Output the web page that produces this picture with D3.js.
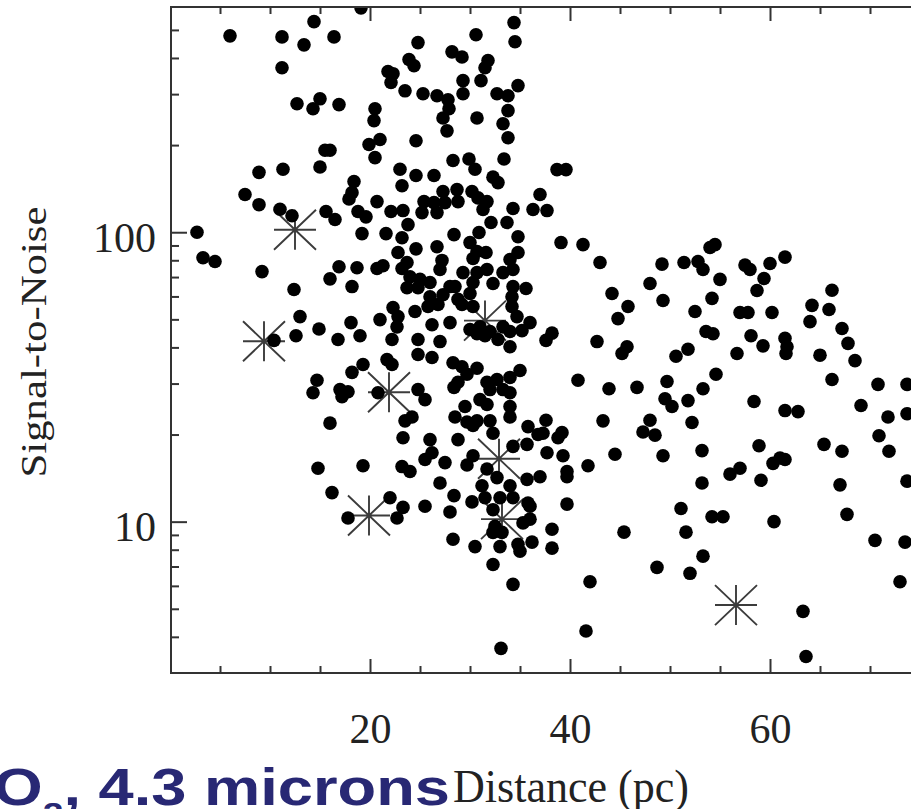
<!DOCTYPE html>
<html><head><meta charset="utf-8">
<script src="https://cdn.jsdelivr.net/npm/d3@7"></script>
<style>html,body{margin:0;padding:0;background:#fff;overflow:hidden}</style>
</head><body>
<svg id="chart" width="911" height="809"></svg>
<script>
// ---- data ----
const distance = [
6.0,11.2,13.4,14.4,16.4,19.1,24.8,28.2,29.2,30.6,34.4,34.5,23.9,24.4,21.8,22.3,22.1,23.5,25.3,26.7,
27.8,27.9,27.3,27.7,29.3,29.3,31.1,31.8,31.5,32.7,33.8,34.8,33.8,33.3,33.8,33.4,30.7,16.9,20.5,20.4,
19.9,21.0,20.5,24.6,23.0,24.6,26.4,28.3,29.9,30.5,32.3,16.0,11.2,12.7,14.3,15.0,15.5,15.0,8.9,11.3,
7.5,8.9,11.0,12.2,2.7,3.3,4.5,9.2,12.4,13.0,12.6,10.4,14.9,16.8,18.1,19.0,16.0,16.9,18.7,18.2,
19.2,15.6,16.5,18.4,18.2,17.9,18.8,19.6,20.7,23.2,22.1,23.3,23.8,23.2,21.6,27.3,28.7,28.8,27.5,25.4,
26.4,25.2,26.7,30.2,30.8,31.7,31.3,32.8,34.3,36.3,37.0,33.7,32.1,30.9,28.4,34.8,26.7,24.6,22.8,30.0,
30.7,31.6,34.8,34.0,27.2,30.3,23.7,20.7,21.3,23.2,24.0,25.0,23.7,24.8,26.0,27.0,28.0,29.3,30.7,31.7,
30.3,32.3,33.3,34.3,34.3,35.6,26.0,27.3,28.5,28.8,30.0,29.2,30.3,25.8,26.8,24.5,22.3,22.8,21.0,22.7,
22.2,24.8,27.0,26.2,28.0,30.0,31.0,30.7,32.0,34.2,34.2,34.7,36.0,33.3,34.0,35.2,31.5,32.8,24.8,26.2,
34.0,19.3,18.2,21.7,22.2,17.0,17.8,17.2,20.8,24.8,25.5,28.3,29.2,30.7,29.7,28.8,28.4,31.7,32.7,34.0,
35.0,32.0,33.3,34.0,31.0,31.7,29.5,34.0,28.5,29.7,30.7,32.0,34.0,30.3,32.3,35.8,24.2,23.5,23.3,16.0,
26.0,26.2,25.5,27.5,28.8,30.3,29.7,31.7,34.3,35.7,36.8,19.3,23.2,24.0,27.0,31.2,32.7,34.0,35.7,37.0,
31.5,33.0,34.3,16.2,22.0,23.3,25.5,28.4,30.2,28.0,35.8,32.3,17.8,22.7,32.5,32.3,33.2,35.3,36.0,36.0,
28.3,30.5,33.0,34.8,35.0,36.2,32.3,34.3,33.1,14.7,14.3,14.8,38.7,39.6,37.7,39.1,41.3,43.0,44.2,45.8,
44.8,38.2,37.6,42.7,45.2,45.7,48.0,49.2,49.3,51.4,52.8,53.3,54.0,54.5,55.0,54.2,52.5,53.6,54.3,50.6,
51.8,56.7,57.5,58.0,60.0,61.5,59.4,58.7,57.0,57.8,60.2,58.1,59.3,61.5,61.7,61.6,64.2,64.0,66.2,65.9,
67.2,67.8,68.5,65.0,66.2,70.8,73.7,69.1,71.8,73.7,70.9,71.9,73.7,67.0,67.7,70.5,73.5,73.0,65.4,67.2,
37.6,37.3,39.2,38.8,37.7,39.3,39.7,39.7,41.8,40.8,43.9,46.7,43.3,44.5,49.7,49.5,50.2,51.8,53.3,54.6,
52.2,48.0,47.3,48.5,49.3,53.2,58.4,61.5,62.8,58.9,61.0,60.3,61.5,56.0,57.0,59.1,53.2,39.7,38.2,38.2,
45.4,51.1,51.6,54.2,55.3,60.4,53.3,48.7,52.0,42.0,41.6,63.3,63.6
];
const snr = [
477,473,444,534,473,596,452,420,403,481,530,455,395,376,359,353,329,308,301,296,
287,267,248,224,334,301,334,392,370,301,296,321,263,237,212,179,248,276,267,243,
201,209,181,207,165,157,157,177,179,165,155,192,370,278,267,289,192,168,161,165,
135,124.5,120,114,100,81.6,79.2,73.1,63.4,51.1,43.9,42.3,46.3,42.6,48.7,43.9,69.0,76.0,75.4,64.9,
98.9,117.9,110.6,149.7,137,130.3,117.9,113,127.6,144.8,117.9,118.8,106.2,95.7,98.9,138.2,140.4,127.6,126.6,127.6,
126.6,116.9,116.9,138.2,131.4,127.6,119.8,148.4,120.8,119.8,135,108,108,99.8,98.1,96.5,89.1,87.6,85.1,92.1,
85.8,85.1,85.1,80.5,79.9,81.1,78.6,74.9,76.6,74.9,70.1,68.7,64.3,64.3,67.0,74.3,64.9,72.5,72.5,74.3,
67.0,66.5,72.5,74.3,64.9,63.9,59.8,60.8,64.9,58.6,61.4,56.3,55.4,55.4,56.3,53.2,54.9,51.1,49.9,47.1,
42.6,42.6,41.9,47.9,48.7,46.1,47.1,44.6,45.4,55.4,59.8,51.1,48.7,47.1,45.4,45.7,43.9,42.6,37.8,36.9,
40.2,34.9,32.8,36.3,34.9,28.6,28.1,27.0,27.9,28.6,26.4,35.4,34.3,33.9,32.3,30.3,29.1,30.3,31.0,31.5,
33.3,28.6,28.6,27.9,26.4,25.4,25.0,25.0,23.0,22.1,22.3,22.3,23.0,21.5,20.2,21.3,23.0,22.3,19.5,21.9,
19.2,17.3,16.4,16.0,19.2,16.9,15.7,15.2,18.2,18.5,20.0,15.6,15.5,14.9,13.6,13.3,14.2,13.3,14.0,14.3,
12.1,12.1,12.1,12.6,12.1,11.2,11.3,12.3,11.7,10.8,11.6,11.0,10.3,10.3,9.63,9.18,9.18,9.9,10.2,11.3,
8.69,8.2,8.2,8.35,7.9,8.5,7.11,6.07,3.65,30.8,27.9,15.3,164.6,164.6,118.8,92.1,90.6,78.6,61.4,55.4,
50.3,44.8,42.3,41.9,38.1,40.2,66.5,77.6,58.1,78.6,79.2,74.3,88.6,90.6,68.7,59.1,53.2,45.4,44.6,37.3,
39.4,38.1,77.0,74.3,78.0,82.0,69.2,62.9,52.8,52.8,52.8,43.9,40.5,43.0,40.2,38.1,55.9,49.1,63.0,54.1,
46.5,41.3,36.0,37.6,31.0,29.8,29.8,25.2,23.0,23.6,19.8,17.5,13.8,13.4,10.6,8.62,8.5,6.2,18.5,17.5,
22.4,20.2,20.3,19.5,17.3,16.9,14.9,14.3,15.6,30.8,28.8,29.1,22.3,17.1,30.5,26.6,25.0,26.2,28.8,32.3,
22.0,22.4,20.4,19.9,16.9,17.6,26.0,24.2,24.0,18.3,16.6,15.9,16.4,14.6,15.3,13.9,13.6,11.5,9.41,8.1,
9.2,11.1,9.2,10.4,10.4,10.0,7.6,6.95,6.63,6.2,4.19,4.9,3.42
];
const starDistance = [12.5, 9.4, 21.9, 19.9, 32.9, 33.2, 31.5, 56.6];
const starSnr      = [102, 42.0, 28.0, 10.5, 16.5, 10.2, 49.5, 5.15];

const xMajorTicks = [20, 40, 60];
const xMinorTicks = [5, 10, 15, 25, 30, 35, 45, 50, 55, 65, 70, 75];
const yMajorTicks = [10, 100];
const yMinorTicks = [4, 5, 6, 7, 8, 9, 20, 30, 40, 50, 60, 70, 80, 90, 200, 300, 400, 500];
const xTitle = "Distance (pc)";
const yTitle = "Signal-to-Noise";
const slideTitleMain = "CO";
const slideTitleSub = "2";
const slideTitleRest = ", 4.3 microns";

// ---- drawing ----
const svg = d3.select("#chart");
svg.append("rect").attr("width", 911).attr("height", 809).attr("fill", "#fff");

const pLeft = 171, pTop = 7, pBottom = 673, pRight = 971;
const x = d3.scaleLinear().domain([0, 80]).range([170, 970]);
const y = d3.scaleLog().domain([3, 600]).range([pBottom, pTop]);

const axisColor = "#333";
const serif = "'Liberation Serif','Times New Roman',serif";

svg.append("defs").append("clipPath").attr("id", "plotclip")
  .append("rect").attr("x", pLeft).attr("y", pTop).attr("width", pRight - pLeft).attr("height", pBottom - pTop);

// star markers (drawn under the dots)
const stars = starDistance.map((d, i) => ({ d, s: starSnr[i] }));
const ax = 21, ay = 20;
const starPath = `M${-ax},0H${ax}M0,${-ay}V${ay}M${-ax},${-ay}L${ax},${ay}M${-ax},${ay}L${ax},${-ay}`;
const plot = svg.append("g").attr("clip-path", "url(#plotclip)");
plot.selectAll("path.star").data(stars).join("path")
  .attr("class", "star")
  .attr("transform", d => `translate(${x(d.d)},${y(d.s)})`)
  .attr("d", starPath)
  .attr("fill", "none").attr("stroke", "#3c3c3c").attr("stroke-width", 1.9);

// dots
const pts = distance.map((d, i) => ({ d, s: snr[i] }));
plot.selectAll("circle.pt").data(pts).join("circle")
  .attr("class", "pt")
  .attr("cx", d => x(d.d)).attr("cy", d => y(d.s))
  .attr("r", 6.8).attr("fill", "#000");

// frame
svg.append("rect").attr("x", pLeft).attr("y", pTop).attr("width", pRight - pLeft).attr("height", pBottom - pTop)
  .attr("fill", "none").attr("stroke", axisColor).attr("stroke-width", 2);

function styleAxis(g) {
  g.select(".domain").remove();
  g.selectAll(".tick line").attr("stroke", axisColor).attr("stroke-width", 2);
  g.selectAll("text").attr("font-family", serif).attr("font-size", 42).attr("fill", "#222");
}

// bottom axis
svg.append("g").attr("transform", `translate(0,${pBottom})`)
  .call(d3.axisBottom(x).tickValues(xMinorTicks).tickSize(-7).tickFormat(""))
  .call(styleAxis);
svg.append("g").attr("transform", `translate(0,${pBottom})`)
  .call(d3.axisBottom(x).tickValues(xMajorTicks).tickSize(-14).tickPadding(40).tickFormat(d3.format("d")))
  .call(styleAxis);
// top axis
svg.append("g").attr("transform", `translate(0,${pTop})`)
  .call(d3.axisTop(x).tickValues(xMinorTicks).tickSize(-7).tickFormat(""))
  .call(styleAxis);
svg.append("g").attr("transform", `translate(0,${pTop})`)
  .call(d3.axisTop(x).tickValues(xMajorTicks).tickSize(-14).tickFormat(""))
  .call(styleAxis);
// left axis
svg.append("g").attr("transform", `translate(${pLeft},0)`)
  .call(d3.axisLeft(y).tickValues(yMinorTicks).tickSize(-8).tickFormat(""))
  .call(styleAxis);
const yMaj = svg.append("g").attr("transform", `translate(${pLeft},0)`)
  .call(d3.axisLeft(y).tickValues(yMajorTicks).tickSize(-16).tickPadding(15).tickFormat(d3.format("d")))
  .call(styleAxis);
yMaj.selectAll("text").attr("dy", "0.45em");

// axis titles
svg.append("text")
  .attr("x", 571).attr("y", 802)
  .attr("text-anchor", "middle")
  .attr("font-family", serif).attr("font-size", 46).attr("fill", "#222")
  .attr("textLength", 236).attr("lengthAdjust", "spacingAndGlyphs")
  .text(xTitle);

svg.append("text")
  .attr("transform", `translate(46,342) rotate(-90)`)
  .attr("text-anchor", "middle")
  .attr("font-family", serif).attr("font-size", 36).attr("fill", "#222")
  .attr("textLength", 271).attr("lengthAdjust", "spacingAndGlyphs")
  .text(yTitle);

// slide title (bold navy, partially cut at the left edge)
const t = svg.append("g").attr("transform", "translate(450,805) scale(1.24,1)")
  .append("text")
  .attr("text-anchor", "end")
  .attr("font-family", "'Liberation Sans',Arial,sans-serif")
  .attr("font-weight", "bold").attr("font-size", 51).attr("fill", "#282874");
t.append("tspan").text(slideTitleMain);
t.append("tspan").attr("font-size", 30).attr("dy", 18).text(slideTitleSub);
t.append("tspan").attr("dy", -18).text(slideTitleRest);
</script>
</body></html>
